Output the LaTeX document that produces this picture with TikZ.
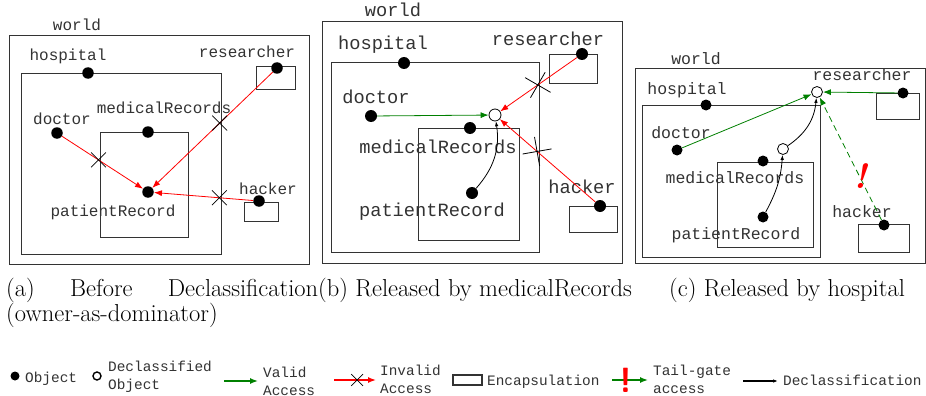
\documentclass[tikz,border=0pt]{standalone}
\usepackage{fontspec}
\newfontfamily\monof{Liberation Mono}
\usetikzlibrary{arrows.meta,shapes.misc}
\begin{document}
\begin{tikzpicture}[x=1pt,y=1pt,
  box/.style={draw=black!80, line width=0.9pt},
  obj/.style={circle, fill=black, inner sep=0pt, minimum size=#1},
  obj/.default=11.5pt,
  dcl/.style={circle, draw=black, fill=white, line width=0.8pt, inner sep=0pt, minimum size=#1},
  dcl/.default=11pt,
  lblA/.style={font=\monof\fontsize{16}{16}\selectfont, anchor=base, inner sep=0pt, text=black!80},
  lblB/.style={font=\monof\fontsize{18.7}{18.7}\selectfont, anchor=base, inner sep=0pt, text=black!80},
  lblC/.style={font=\monof\fontsize{16.5}{16.5}\selectfont, anchor=base, inner sep=0pt, text=black!80},
  lgt/.style={font=\monof\fontsize{14.4}{17.5}\selectfont, anchor=base west, inner sep=0pt, text=black!80},
  captxt/.style={font=\fontsize{24.5}{23}\selectfont, anchor=base west, inner sep=0pt},
  inv/.style={draw=red, line width=0.8pt, -{Latex[length=8pt,width=6pt]}},
  val/.style={draw=green!50!black, line width=0.8pt, -{Latex[length=8pt,width=6pt]}},
  dec/.style={draw=black, line width=0.8pt, -{Latex[length=5pt,width=3.5pt]}},
  xmark/.style={cross out, draw=black, line width=0.8pt, inner sep=0pt, minimum size=#1},
  xmark/.default=14pt,
  lgline/.style={line width=1.4pt},
]
\clip (0,0) rectangle (926,-396);
\fill[white] (0,0) rectangle (926,-396);

% ---------------- panel (a) ----------------
\draw[box] (9,-35) rectangle (309,-264);
\draw[box] (21,-73) rectangle (221,-254);
\draw[box] (100,-132) rectangle (188,-237);
\draw[box] (256,-66) rectangle (295,-89);
\draw[box] (244,-202) rectangle (278,-221);
\node[lblA] (wA) at (77,-31) {world};
\node[lblA] (hA) at (68,-60) {hospital};
\node[lblA] (rA) at (247,-58) {researcher};
\node[lblA] (mA) at (164,-113) {medicalRecords};
\node[lblA] (dA) at (62,-124) {doctor};
\node[lblA] (pA) at (113,-216) {patientRecord};
\node[lblA] (kA) at (268,-194) {hacker};
\node[obj] (hosA) at (88,-73) {};
\node[obj] (resA) at (277,-68) {};
\node[obj] (medA) at (148,-132) {};
\node[obj] (docA) at (57,-133) {};
\node[obj] (prA) at (148,-192) {};
\node[obj] (hacA) at (259,-201) {};
\draw[inv] (docA) -- node[xmark,pos=0.45]{} (prA);
\draw[inv] (resA) -- node[xmark,pos=0.44]{} (prA);
\draw[inv] (hacA) -- node[xmark,pos=0.34]{} (prA);

% ---------------- panel (b) ----------------
\draw[box] (322,-21) rectangle (622,-263);
\draw[box] (331,-62) rectangle (539,-252);
\draw[box] (418,-128) rectangle (519,-240);
\draw[box] (549,-54) rectangle (597,-83);
\draw[box] (569,-206) rectangle (617,-232);
\node[lblB] (wB) at (393,-17) {world};
\node[lblB] (hB) at (383,-49) {hospital};
\node[lblB] (rB) at (548,-46) {researcher};
\node[lblB] (dB) at (376,-103) {doctor};
\node[lblB] (mB) at (438,-153) {medicalRecords};
\node[lblB] (pB) at (432,-216) {patientRecord};
\node[lblB] (kB) at (582,-193) {hacker};
\node[obj=12pt] (hosB) at (404,-63) {};
\node[obj=12pt] (resB) at (582,-54) {};
\node[obj=12pt] (medB) at (470,-128) {};
\node[obj=12pt] (docB) at (371,-116) {};
\node[obj=12pt] (prB) at (472,-193) {};
\node[obj=12pt] (hacB) at (600,-206) {};
\node[dcl=12pt] (decB) at (495,-115) {};
\draw[val] (docB) -- (decB);
\draw[inv] (resB) -- node[xmark=20pt, rotate=15, pos=0.51]{} (decB);
\draw[inv] (hacB) -- node[xmark=20pt, rotate=55, pos=0.61]{} (decB);
\draw[dec] (prB) to[bend right=25] (decB);

% ---------------- panel (c) ----------------
\draw[box] (635,-68) rectangle (925,-263);
\draw[box] (642,-105) rectangle (820,-257);
\draw[box] (717,-162) rectangle (813,-247);
\draw[box] (876,-93) rectangle (919,-119);
\draw[box] (858,-224) rectangle (909,-252);
\node[lblC] (wC) at (696,-65) {world};
\node[lblC] (hC) at (687,-94) {hospital};
\node[lblC] (rC) at (862,-81) {researcher};
\node[lblC] (dC) at (681,-138) {doctor};
\node[lblC] (mC) at (735,-183) {medicalRecords};
\node[lblC] (pC) at (736,-239) {patientRecord};
\node[lblC] (kC) at (862,-217) {hacker};
\node[obj=11pt] (hosC) at (706,-105) {};
\node[obj=11pt] (resC) at (903,-93) {};
\node[obj=11pt] (medC) at (763,-161) {};
\node[obj=11pt] (docC) at (677,-150) {};
\node[obj=11pt] (prC) at (763,-217) {};
\node[obj=11pt] (hacC) at (884,-225) {};
\node[dcl=11pt] (dc1) at (817,-92) {};
\node[dcl=11pt] (dc2) at (783,-149) {};
\draw[val] (docC) -- (dc1);
\draw[val] (resC) -- (dc1);
\draw[val, dashed, dash pattern=on 6pt off 4pt] (hacC) -- (dc1);
\draw[dec] (prC) to[bend right=12] (dc2);
\draw[dec] (dc2) to[bend right=25] (dc1);
\node[font=\fontsize{35}{35}\bfseries\itshape, text=red, anchor=base, inner sep=0pt] (exC) at (860,-188) {!};

% ---------------- captions ----------------
\node[captxt, text width=312pt, align=justify] (capA) at (6,-296) {(a) Before Declassification (owner-as-dominator)};
\node[captxt] (capB) at (318,-296) {(b) Released by medicalRecords};
\node[captxt] (capC) at (669,-296) {(c) Released by hospital};

% ---------------- legend ----------------
\node[obj=9pt] (lgObj) at (15,-376) {};
\node[lgt] (lgObjT) at (25,-382) {Object};
\node[dcl=8pt, line width=1.4pt] (lgDcl) at (97,-376) {};
\node[lgt, align=left] (lgDclT) at (108,-389) {Declassified\\Object};
\coordinate (gv1) at (224,-381);
\coordinate (gv2) at (258,-381);
\draw[val, lgline] (gv1) -- (gv2);
\node[lgt, align=left] (lgVal) at (263,-395) {Valid\\Access};
\coordinate (ri1) at (334,-380);
\coordinate (ri2) at (376,-380);
\draw[inv, lgline] (ri1) -- node[xmark=11pt, pos=0.55]{} (ri2);
\node[lgt, align=left] (lgInv) at (380,-393) {Invalid\\Access};
\draw[box, line width=1.5pt] (453,-375) rectangle (482,-385);
\node[lgt] (lgEnc) at (487,-385) {Encapsulation};
\coordinate (tg1) at (612,-380);
\coordinate (tg2) at (648,-380);
\draw[val, lgline] (tg1) -- (tg2);
\node[font=\fontsize{35}{35}\sffamily\bfseries, text=red, anchor=base, inner sep=0pt] (lgEx) at (626,-392) {!};
\node[lgt, align=left] (lgTg) at (653,-393) {Tail-gate\\access};
\coordinate (dl1) at (743,-381);
\coordinate (dl2) at (778,-381);
\draw[dec, lgline] (dl1) -- (dl2);
\node[lgt] (lgDec) at (783,-385) {Declassification};
\end{tikzpicture}
\end{document}
